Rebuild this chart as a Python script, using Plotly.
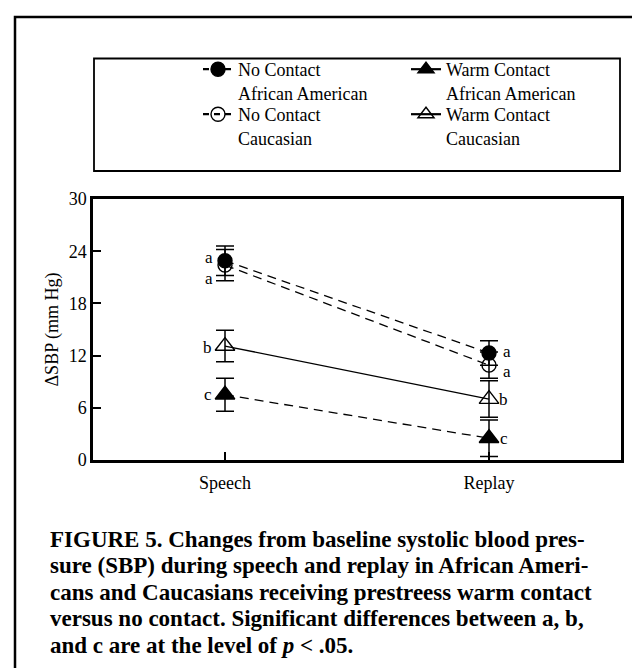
import plotly.graph_objects as go

# ---- data ----
categories = ["Speech", "Replay"]
nc_aa = [22.9, 12.3]          # No Contact, African American
nc_aa_err = [1.7, 1.4]
nc_ca = [22.4, 10.9]          # No Contact, Caucasian
nc_ca_err = [1.8, 1.5]
wc_aa = [7.5, 2.5]            # Warm Contact, African American
wc_aa_err = [1.9, 2.1]
wc_ca = [13.1, 7.0]           # Warm Contact, Caucasian
wc_ca_err = [1.8, 2.1]
nc_aa_sig = ["a", "a"]
nc_ca_sig = ["a", "a"]
wc_aa_sig = ["c", "c"]
wc_ca_sig = ["b", "b"]
y_ticks = [0, 6, 12, 18, 24, 30]
legend_names = ["No Contact<br>African American", "Warm Contact<br>African American",
                "No Contact<br>Caucasian", "Warm Contact<br>Caucasian"]
caption_lines = [
    "FIGURE 5. Changes from baseline systolic blood pres-",
    "sure (SBP) during speech and replay in African Ameri-",
    "cans and Caucasians receiving prestreess warm contact",
    "versus no contact. Significant differences between a, b,",
    "and c are at the level of <i>p</i> &lt; .05.",
]

SERIF = "Liberation Serif"
W, H = 640, 668
L, R, T, B = 85, 27, 191, 216
pw, ph = W - L - R, H - T - B


def px_x(x):
    return (x - L) / pw


def px_y(y):
    return (H - B - y) / ph


fig = go.Figure()


def add_series(y, err, sig, symbol, dash, shifts):
    fig.add_trace(go.Scatter(
        x=categories, y=y, mode="lines+markers",
        line=dict(color="black", width=1.3, dash=dash),
        marker=dict(symbol=symbol, size=14 if "circle" in symbol else 17,
                    color="black", line=dict(color="black", width=1.4)),
        error_y=dict(type="data", array=err, visible=True, color="black",
                     thickness=1.5, width=9),
        showlegend=False, cliponaxis=False,
    ))
    for cat, val, letter, (dx, dy) in zip(categories, y, sig, shifts):
        fig.add_annotation(x=cat, y=val, text=letter, showarrow=False,
                           xshift=dx, yshift=dy, xanchor="center", yanchor="middle",
                           font=dict(family=SERIF, size=17, color="black"))


add_series(wc_aa, wc_aa_err, wc_aa_sig, "triangle-up", "9px,6px", [(-17, 0), (15, 0)])
add_series(wc_ca, wc_ca_err, wc_ca_sig, "triangle-up-open", "solid", [(-18, -1), (14, 0)])
add_series(nc_ca, nc_ca_err, nc_ca_sig, "circle-open", "9px,6px", [(-16, -13), (18, -6)])
add_series(nc_aa, nc_aa_err, nc_aa_sig, "circle", "9px,6px", [(-16, 3), (18, 1)])

# legend-only entries (the key draws warm-contact lines solid)
leg_styles = [("circle", "6px,5px"), ("triangle-up", "solid"),
              ("circle-open", "6px,5px"), ("triangle-up-open", "solid")]
leg_ids = ["legend", "legend", "legend2", "legend2"]
for name, (sym, dash), lid in zip(legend_names, leg_styles, leg_ids):
    fig.add_trace(go.Scatter(
        x=[None], y=[None], mode="lines+markers", name=name, legend=lid,
        line=dict(color="black", width=2.2, dash=dash),
        marker=dict(symbol=sym, size=14, color="black", line=dict(color="black", width=1.4)),
        showlegend=True,
    ))

for i, line in enumerate(caption_lines):
    fig.add_annotation(
        x=px_x(40), y=px_y(531 + 26.5 * i), xref="paper", yref="paper",
        xanchor="left", yanchor="middle", showarrow=False,
        text="<b>" + line + "</b>",
        font=dict(family=SERIF, size=23, color="black"),
    )

# outer frame and legend frame
fig.add_shape(type="rect", xref="paper", yref="paper",
              x0=px_x(7), x1=px_x(660), y0=px_y(9), y1=px_y(690),
              line=dict(color="black", width=2.5), fillcolor="rgba(0,0,0,0)")
fig.add_shape(type="rect", xref="paper", yref="paper",
              x0=px_x(86), x1=px_x(612), y0=px_y(50.5), y1=px_y(163),
              line=dict(color="black", width=1.8), fillcolor="rgba(0,0,0,0)")

leg_common = dict(
    xanchor="left", yanchor="top", orientation="h",
    entrywidth=163, entrywidthmode="pixels", valign="top",
    bgcolor="rgba(0,0,0,0)", borderwidth=0,
    font=dict(family=SERIF, size=18, color="black"),
)

fig.update_layout(
    width=W, height=H,
    margin=dict(l=L, r=R, t=T, b=B),
    paper_bgcolor="white", plot_bgcolor="white",
    font=dict(family=SERIF, size=18, color="black"),
    legend=dict(x=px_x(190), y=px_y(43), **leg_common),
    legend2=dict(x=px_x(190), y=px_y(88), **leg_common),
    xaxis=dict(
        type="category", range=[-0.5, 1.5], showgrid=False, zeroline=False,
        showline=True, mirror=True, linecolor="black", linewidth=2.5,
        ticks="inside", ticklen=8, tickwidth=2, tickcolor="black",
        ticklabelstandoff=5,
        tickfont=dict(family=SERIF, size=18, color="black"),
    ),
    yaxis=dict(
        range=[0, 30], tickvals=y_ticks, showgrid=False, zeroline=False,
        showline=True, mirror=True, linecolor="black", linewidth=2.5,
        ticks="inside", ticklen=8, tickwidth=2, tickcolor="black",
        tickfont=dict(family=SERIF, size=18, color="black"),
        title=dict(text="ΔSBP (mm Hg)", standoff=6,
                   font=dict(family=SERIF, size=18, color="black")),
    ),
)

fig.write_html("out.html")
